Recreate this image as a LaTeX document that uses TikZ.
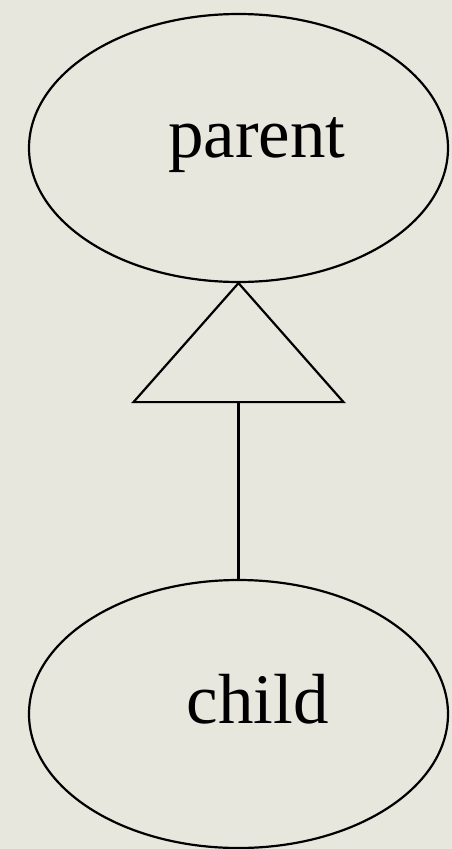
\documentclass[tikz,border=0pt]{standalone}
\usepackage{fontspec}
\setmainfont{Liberation Serif}
\usetikzlibrary{shapes.geometric}
\definecolor{paper}{HTML}{E7E7DE}
\begin{document}
\begin{tikzpicture}[x=1pt,y=1pt,
  classbox/.style={draw, ellipse, line width=2.2pt, minimum width=419pt, minimum height=268pt, inner sep=0pt},
  lbl/.style={font=\fontsize{71}{80}\selectfont, inner sep=0pt, anchor=base},
  edge/.style={line width=2.2pt}]
\fill[paper] (0,0) rectangle (452,-849);
\useasboundingbox (0,0) rectangle (452,-849);
\node[classbox] (parent) at (238.5,-148) {};
\node[classbox] (child) at (238.5,-714) {};
\node[lbl] (ptext) at (257,-157) {parent};
\node[lbl] (ctext) at (257.5,-723) {child};
\coordinate (apex) at (parent.south);
\coordinate (bl) at ([xshift=-105pt,yshift=-119pt]apex);
\coordinate (br) at ([xshift=105pt,yshift=-119pt]apex);
\coordinate (bm) at ([yshift=-119pt]apex);
\draw[edge, line join=miter] (apex) -- (bl) -- (br) -- cycle;
\draw[edge] (bm) -- (child.north);
\end{tikzpicture}
\end{document}
